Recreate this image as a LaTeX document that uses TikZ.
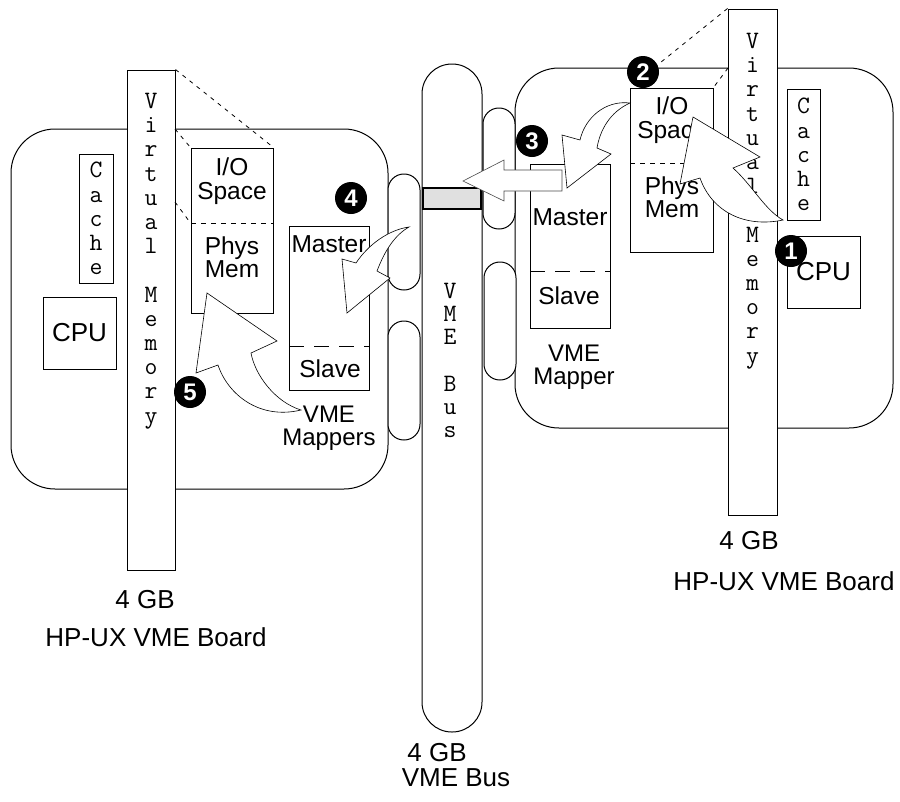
\documentclass[tikz,border=0pt]{standalone}
\usepackage{fontspec}
\setmainfont{Liberation Sans}
\tikzset{board/.style={draw,fill=white,line width=1pt,rounded corners=44pt,inner sep=0pt},
  box/.style={draw,fill=white,line width=1pt,inner sep=0pt},
  slot/.style={box,rounded corners=15.9pt},
  vtxt/.style={font=\ttfamily\fontsize{25}{24.2}\selectfont,align=center,inner sep=0pt},
  lbl/.style={font=\fontsize{26}{26}\selectfont,inner sep=0pt,align=center},
  txt/.style={font=\fontsize{24.5}{23.5}\selectfont,inner sep=0pt,align=center},
  maptxt/.style={font=\fontsize{24}{23}\selectfont,inner sep=0pt,align=center},
  fat/.style={draw,fill=white,line width=0.6pt,line join=miter},
  num/.style={circle,fill=black,minimum size=32pt,inner sep=0pt,text=white,font=\bfseries\fontsize{24}{24}\selectfont},
  mapline/.style={line width=0.8pt,dash pattern=on 4pt off 5pt},
  split/.style={line width=0.8pt,dash pattern=on 5pt off 5pt},
  longsplit/.style={line width=0.8pt,dash pattern=on 15pt off 10pt}}
\begin{document}
\begin{tikzpicture}[x=1pt,y=-1pt]
\useasboundingbox (0,0) rectangle (900,801);
\node[board,minimum width=377pt,minimum height=360pt] (lboard) at (199.5,309){};
\node[board,minimum width=378pt,minimum height=360pt] (rboard) at (704,248){};
\node[box,minimum width=48pt,minimum height=500pt] (lvm) at (151,320){};
\node[box,minimum width=49pt,minimum height=506pt] (rvm) at (752.5,262){};
\node[box,rounded corners=29.9pt,minimum width=60pt,minimum height=668pt] (bus) at (452,398){};
\node[slot,minimum width=32pt,minimum height=116pt] (lslot1) at (404,232){}; \node[slot,minimum width=32pt,minimum height=119pt] (lslot2) at (404,380.5){};
\node[slot,minimum width=32pt,minimum height=121pt] (rslot1) at (499,168.5){}; \node[slot,minimum width=32pt,minimum height=118pt] (rslot2) at (500,321){};
\node[box,fill=black!12,line width=1.5pt,minimum width=58pt,minimum height=21pt] (gate) at (452,198.5){};
\node[vtxt,anchor=north] (lvmt) at (151,93){V\\i\\r\\t\\u\\a\\l\\~\\M\\e\\m\\o\\r\\y};
\node[vtxt,anchor=north] (rvmt) at (752.5,33){V\\i\\r\\t\\u\\a\\l\\~\\M\\e\\m\\o\\r\\y};
\node[vtxt,anchor=north,font=\ttfamily\fontsize{25}{23.2}\selectfont] (bust) at (450,283){V\\M\\E\\~\\B\\u\\s};
\node[box,vtxt,minimum width=34pt,minimum height=129pt] (lcache) at (96,218.5){C\\a\\c\\h\\e};
\node[box,vtxt,minimum width=33pt,minimum height=131pt] (rcache) at (803.5,154.5){C\\a\\c\\h\\e};
\node[box,lbl,minimum width=73pt,minimum height=72pt] (lcpu) at (79.5,333){CPU};
\node[box,lbl,minimum width=73pt,minimum height=72pt] (rcpu) at (823.5,272){CPU};
\node[box,minimum width=82pt,minimum height=165pt] (lmem) at (232,230.5){}; \node[box,minimum width=80pt,minimum height=164pt] (lmap) at (329,308){};
\node[box,minimum width=83pt,minimum height=164pt] (rmem) at (671.5,170){}; \node[box,minimum width=80pt,minimum height=164pt] (rmap) at (570,246){};
\draw[split] (191,223)--(273,223); \draw[split] (630,163)--(713,163);
\draw[longsplit] (289,346)--(369,346); \draw[longsplit] (530,271)--(610,271);
\node[txt] (lio) at (232,181){I/O\\Space}; \node[txt] (lphys) at (232,257){Phys\\Mem};
\node[txt] (lmas) at (329,244){Master}; \node[txt] (lsla) at (330,369){Slave};
\node[maptxt] (lmapt) at (329,428){VME\\Mappers};
\node[txt] (rio) at (672,120){I/O\\Space}; \node[txt] (rphys) at (672,197){Phys\\Mem};
\node[txt] (rmas) at (570,217){Master}; \node[txt] (rsla) at (569,296){Slave};
\node[maptxt] (rmapt) at (574,367){VME\\Mapper};
\node[lbl] (lgb) at (145,600){4 GB}; \node[lbl] (lname) at (156,637){HP-UX VME Board};
\node[lbl] (rgb) at (749,541){4 GB}; \node[lbl] (rname) at (784,581){HP-UX VME Board};
\node[lbl] (bgb) at (437,753){4 GB}; \node[lbl] (bname) at (456,778){VME Bus};
\draw[mapline] (lvm.north east)--(lmem.north east); \draw[mapline] (175,129)--(lmem.north west); \draw[mapline] (175,202)--(lmem.west |- 0,223);
\draw[mapline] (rvm.north west)--(rmem.north west); \draw[mapline] (728,68)--(rmem.north east);
\draw[fat,draw=black!70] (562,170)--(504,170)--(504,160)--(463,181)--(504,201)--(504,191)--(562,191)--cycle;
\draw[fat] (630,103) .. controls (605,100) and (585,118) .. (580,140)--(562,135)--(567,188)--(611,154)--(597,148) .. controls (600,130) and (610,112) .. (630,103)--cycle;
\draw[fat] (783,220) .. controls (745,228) and (712,212) .. (700,178)--(680,184)--(693,117)--(760,157)--(733,168) .. controls (752,185) and (765,210) .. (783,220)--cycle;
\draw[fat] (409,227) .. controls (388,230) and (368,245) .. (356,263)--(342,259)--(347,313)--(390,278)--(377,271) .. controls (385,250) and (395,235) .. (409,227)--cycle;
\draw[fat] (301,410) .. controls (260,420) and (228,395) .. (218,365)--(196,373)--(207,293)--(277,341)--(251,353) .. controls (255,375) and (275,402) .. (301,410)--cycle;
\node[num] (m1) at (791,251){1}; \node[num] (m2) at (643,72){2}; \node[num] (m3) at (532,141){3};
\node[num] (m4) at (351,198){4}; \node[num] (m5) at (190,392){5};
\end{tikzpicture}
\end{document}
